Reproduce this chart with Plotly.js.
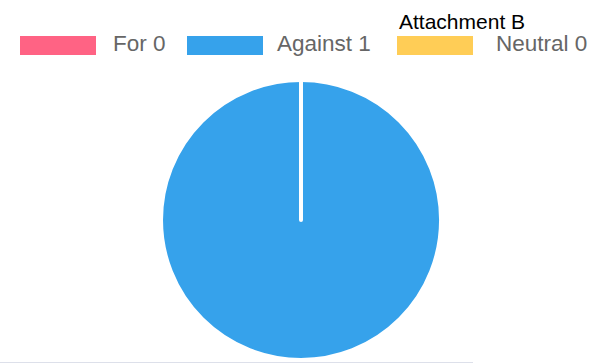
<!DOCTYPE html>
<html>
<head>
<meta charset="utf-8">
<script src="https://cdn.plot.ly/plotly-3.0.1.min.js"></script>
<style>html,body{margin:0;padding:0;background:#fff;}#chart{width:610px;height:363px;}</style>
</head>
<body>
<div id="chart"></div>
<script>
const chartTitle = "Attachment B";
const labels = ["For", "Against", "Neutral"];
const values = [0, 1, 0];
const colors = ["#ff6384", "#36a2eb", "#ffcd56"];

// legend layout (pixel positions of the custom legend boxes)
const W = 610, H = 363;
const boxLeft = [20, 187, 397];
const textLeft = [111, 275, 494];
const boxW = 76, boxTop = 36, boxBot = 55;

const shapes = [];
const annotations = [];
labels.forEach((lab, i) => {
  shapes.push({
    type: "rect", xref: "paper", yref: "paper",
    x0: boxLeft[i] / W, x1: (boxLeft[i] + boxW) / W,
    y0: 1 - boxBot / H, y1: 1 - boxTop / H,
    fillcolor: colors[i], line: {width: 0}
  });
  annotations.push({
    xref: "paper", yref: "paper",
    x: textLeft[i] / W, y: 1 - 43.5 / H,
    xanchor: "left", yanchor: "middle", showarrow: false,
    text: lab + " " + values[i],
    font: {family: "Liberation Sans, Arial, sans-serif", size: 22.5, color: "#666666"}
  });
});
annotations.push({
  xref: "paper", yref: "paper", x: 397 / W, y: 1 - 22 / H,
  xanchor: "left", yanchor: "middle", showarrow: false,
  text: chartTitle,
  font: {family: "Liberation Sans, Arial, sans-serif", size: 21, color: "#000000"}
});
shapes.push({
  type: "line", xref: "paper", yref: "paper",
  x0: 0, x1: 473 / W, y0: 1 - 362.5 / H, y1: 1 - 362.5 / H,
  line: {color: "#dde0ea", width: 1}
});

const trace = {
  type: "pie",
  labels: labels,
  values: values,
  marker: {colors: colors, line: {color: "#ffffff", width: 4}},
  textinfo: "none",
  hoverinfo: "label+value",
  sort: false,
  direction: "clockwise",
  rotation: 0,
  showlegend: false,
  domain: {x: [0.2639, 0.7230], y: [0.0083, 0.7796]}
};

Plotly.newPlot("chart", [trace], {
  width: W, height: H,
  margin: {l: 0, r: 0, t: 0, b: 0},
  paper_bgcolor: "#ffffff",
  showlegend: false,
  shapes: shapes,
  annotations: annotations
}, {displayModeBar: false, staticPlot: true});
</script>
</body>
</html>
